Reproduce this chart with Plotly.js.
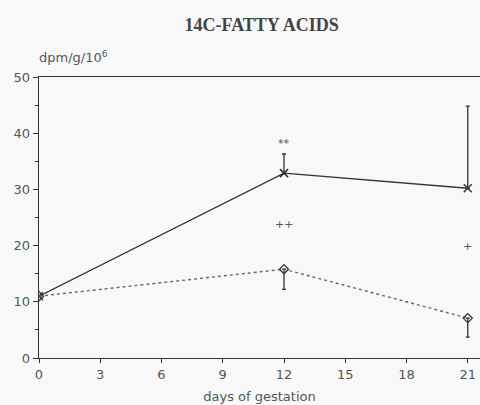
<!DOCTYPE html>
<html>
<head>
<meta charset="utf-8">
<script src="https://cdn.plot.ly/plotly-3.0.1.min.js"></script>
<style>html,body{margin:0;padding:0;background:#f8f8f8;}#chart{width:480px;height:405px;}</style>
</head>
<body>
<div id="chart"></div>
<script>
// Data
const days = [0, 12, 21];
const solidValues = [11.0, 32.9, 30.2];
const solidErrPlus = [0, 3.4, 14.6];
const dashedValues = [11.0, 15.8, 7.1];
const dashedErrMinus = [0, 3.6, 3.4];
const xTicks = [0, 3, 6, 9, 12, 15, 18, 21];
const yTicks = [0, 10, 20, 30, 40, 50];
const markLabels = ['**', '++', '+'];
const markX = [12, 12, 21];
const markY = [38.1, 23.8, 19.8];

const ink = '#333';
const traces = [
  {
    x: days, y: solidValues, type: 'scatter', mode: 'lines+markers',
    line: {color: ink, width: 1.4},
    marker: {symbol: 'x-thin-open', size: 8, color: ink, line: {color: ink, width: 1.5}},
    error_y: {type: 'data', symmetric: false, array: solidErrPlus, arrayminus: [0,0,0],
              color: ink, thickness: 1.3, width: 2},
    showlegend: false, hoverinfo: 'skip'
  },
  {
    x: days, y: dashedValues, type: 'scatter', mode: 'lines+markers',
    line: {color: '#666', width: 1.4, dash: '3px,3px'},
    marker: {symbol: 'diamond-open', size: 7, color: ink, line: {color: ink, width: 1.3}},
    error_y: {type: 'data', symmetric: false, array: [0,0,0], arrayminus: dashedErrMinus,
              color: ink, thickness: 1.3, width: 2},
    showlegend: false, hoverinfo: 'skip'
  }
];

const annotations = markLabels.map((t, i) => ({
  x: markX[i], y: markY[i], xref: 'x', yref: 'y', text: t, showarrow: false,
  font: {family: 'DejaVu Sans', size: 11, color: '#555'}
}));
annotations.push({
  xref: 'paper', yref: 'paper', x: -0.005, y: 1.035, xanchor: 'left', yanchor: 'bottom',
  text: 'dpm/g/10<sup>6</sup>', showarrow: false,
  font: {family: 'DejaVu Sans', size: 13, color: '#555'}
});

const layout = {
  width: 480, height: 405,
  paper_bgcolor: '#f8f8f8', plot_bgcolor: '#f8f8f8',
  margin: {l: 39, r: 0, t: 77, b: 47},
  title: {text: '<b>14C-FATTY ACIDS</b>', x: 0.545, xanchor: 'center', y: 0.94, yanchor: 'middle',
          font: {family: 'Liberation Serif', size: 18, color: '#444'}},
  xaxis: {
    range: [0, 21.6], tickvals: xTicks, ticktext: xTicks.map(String),
    showgrid: false, zeroline: false, showline: true, mirror: true,
    linecolor: ink, linewidth: 1.3, ticks: 'outside', ticklen: 4, tickcolor: ink,
    tickfont: {family: 'DejaVu Sans', size: 13, color: '#555'},
    title: {text: 'days of gestation', standoff: 11, font: {family: 'DejaVu Sans', size: 13, color: '#555'}}
  },
  yaxis: {
    range: [0, 50], tickvals: yTicks, ticktext: yTicks.map(String),
    showgrid: false, zeroline: false, showline: true, mirror: false,
    linecolor: ink, linewidth: 1.3, ticks: 'outside', ticklen: 5, tickcolor: ink,
    minor: {dtick: 5, tick0: 0, ticks: 'outside', ticklen: 3, tickcolor: ink},
    tickfont: {family: 'DejaVu Sans', size: 13, color: '#555'}
  },
  annotations: annotations
};

Plotly.newPlot('chart', traces, layout, {staticPlot: true, displayModeBar: false});
</script>
</body>
</html>
